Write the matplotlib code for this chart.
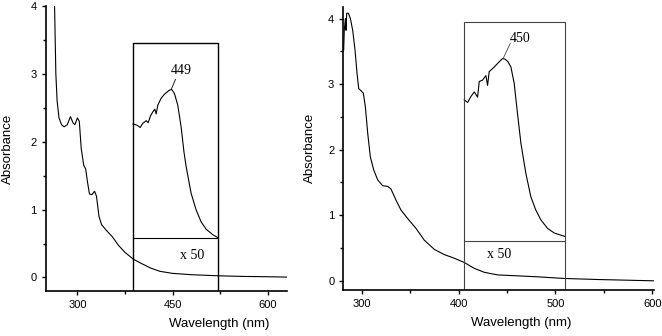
import numpy as np
import matplotlib.pyplot as plt
from matplotlib.ticker import MultipleLocator

# left spectrum
wl_a = [264, 265, 266, 268, 271, 275, 279, 284, 289, 293, 296, 300, 303, 306, 310,
        313, 316, 319, 323, 327, 330, 334, 338, 345, 355, 365, 375, 388, 400, 415,
        430, 450, 480, 520, 560, 600, 630]
abs_a = [4.0, 3.5, 3.0, 2.6, 2.35, 2.25, 2.22, 2.25, 2.37, 2.28, 2.25, 2.35, 2.3, 1.9, 1.65,
         1.6, 1.4, 1.23, 1.22, 1.27, 1.2, 0.9, 0.78, 0.7, 0.6, 0.47, 0.37, 0.27, 0.21, 0.14,
         0.09, 0.06, 0.04, 0.025, 0.015, 0.01, 0.005]
# left inset (x 50), in axis units
wl_ai = [387.5, 393.7, 399, 403, 408.5, 411.6, 415.2, 418.9, 422, 424.2, 426.8, 432, 437.2,
         445, 448.7, 453, 458.2, 463.5, 468, 471.5, 479.3, 487.2, 495, 503, 513.4, 521.8]
abs_ai = [2.26, 2.245, 2.21, 2.27, 2.31, 2.28, 2.38, 2.44, 2.48, 2.41, 2.54, 2.64, 2.70,
          2.76, 2.77, 2.71, 2.54, 2.22, 1.85, 1.63, 1.24, 0.995, 0.82, 0.71, 0.63, 0.583]

# right spectrum
wl_b = [281.4, 282, 283.2, 283.8, 284.5, 286.3, 288.3, 290.7, 293.1, 295.2, 296.9, 299.3,
        301.7, 303.8, 306.2, 308.9, 312.4, 316.5, 321.6, 326.8, 330.2, 335.4, 340.5, 347.4,
        356, 364.6, 374.9, 385.2, 395.5, 405.8, 416.2, 426.5, 440.2, 460.8, 481.4, 508.9,
        543.3, 601.7]
abs_b = [3.52, 3.82, 4.0, 3.82, 4.08, 4.08, 4.0, 3.82, 3.52, 3.16, 2.93, 2.90,
         2.86, 2.65, 2.25, 1.89, 1.69, 1.54, 1.45, 1.44, 1.40, 1.23, 1.08, 0.95,
         0.80, 0.62, 0.48, 0.40, 0.345, 0.28, 0.19, 0.13, 0.09, 0.076, 0.061, 0.036,
         0.02, 0.0]
# right inset (x 50)
wl_bi = [405.8, 409.3, 412.7, 416.2, 419.6, 421.3, 424.7, 428.2, 429.9, 431.6, 436.8, 441.9,
         445.4, 448, 451, 454, 457.4, 460.8, 464.3, 469.4, 474.6, 479.7, 484.9, 491.8, 498.6, 510]
abs_bi = [2.76, 2.72, 2.81, 2.88, 2.80, 3.04, 3.06, 3.13, 2.98, 3.19, 3.26, 3.34,
          3.39, 3.38, 3.34, 3.26, 3.01, 2.55, 2.10, 1.64, 1.28, 1.08, 0.93, 0.80, 0.73, 0.675]

fig = plt.figure(figsize=(6.62, 3.36), dpi=100)
plt.rcParams['font.family'] = 'Liberation Sans'

def setup(ax, xlim, ylim, xmaj, xmin, xlab_pos, ylab_pos):
    ax.set_xlim(*xlim)
    ax.set_ylim(*ylim)
    for s in ['top', 'right']:
        ax.spines[s].set_visible(False)
    for s in ['left', 'bottom']:
        ax.spines[s].set_linewidth(1.2)
    ax.xaxis.set_major_locator(MultipleLocator(xmaj))
    ax.xaxis.set_minor_locator(MultipleLocator(xmin))
    ax.yaxis.set_major_locator(MultipleLocator(1))
    ax.yaxis.set_minor_locator(MultipleLocator(0.5))
    ax.tick_params(which='both', labelsize=8, width=1, direction='out')
    ax.tick_params(which='major', length=3)
    ax.tick_params(which='minor', length=2)
    ax.set_xlabel('Wavelength (nm)', fontsize=9.5)
    ax.set_ylabel('Absorbance', fontsize=9.5)
    ax.xaxis.set_label_coords(*xlab_pos)
    ax.yaxis.set_label_coords(*ylab_pos)

# left panel
ax1 = fig.add_axes([45.7 / 662, 1 - 291 / 336, 241 / 662, 285 / 336])
setup(ax1, (250, 630), (-0.2, 4.0), 150, 75, (0.72, -0.095), (-0.13, 0.5))
ax1.plot(wl_a, abs_a, color='black', lw=0.8)
ax1.plot(wl_ai, abs_ai, color='black', lw=0.8)
ax1.plot([387.5, 387.5, 521.8, 521.8], [-0.2, 3.456, 3.456, -0.2], color='black', lw=1.0)
ax1.plot([387.5, 521.8], [0.574, 0.574], color='black', lw=0.8)
ax1.plot([447.9, 454.7], [2.77, 2.92], color='black', lw=0.6)
ax1.text(463.6, 3.05, '449', family='Liberation Serif', fontsize=10, ha='center', va='center')
ax1.text(481, 0.32, 'x 50', family='Liberation Serif', fontsize=10, ha='center', va='center')

# right panel
ax2 = fig.add_axes([343.3 / 662, 1 - 290 / 336, 311 / 662, 283.3 / 336])
setup(ax2, (281, 602), (-0.14, 4.18), 100, 50, (0.571, -0.095), (-0.088, 0.5))
ax2.plot(wl_b, abs_b, color='black', lw=0.8)
ax2.plot(wl_bi, abs_bi, color='black', lw=0.8)
ax2.plot([405.8, 405.8, 510, 510], [-0.14, 3.94, 3.94, -0.14], color='#444444', lw=0.8)
ax2.plot([405.8, 510], [0.60, 0.60], color='#444444', lw=0.8)
ax2.plot([446, 453.3], [3.39, 3.62], color='#444444', lw=0.6)
ax2.text(463.6, 3.70, '450', family='Liberation Serif', fontsize=10, ha='center', va='center')
ax2.text(441.9, 0.40, 'x 50', family='Liberation Serif', fontsize=10, ha='center', va='center')

fig.savefig('out.png', dpi=100)
